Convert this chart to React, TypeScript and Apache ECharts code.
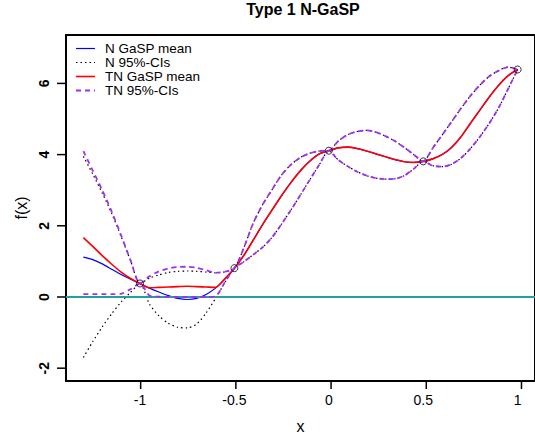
import React, { useEffect, useRef } from "react";
import * as echarts from "echarts";

const xs = [-1.3, -1.25, -1.2, -1.15, -1.1, -1.05, -1, -0.95, -0.9, -0.85, -0.8, -0.75, -0.7, -0.65, -0.6, -0.55, -0.5, -0.45, -0.4, -0.35, -0.3, -0.25, -0.2, -0.15, -0.1, -0.05, 0, 0.05, 0.1, 0.15, 0.2, 0.25, 0.3, 0.35, 0.4, 0.45, 0.5, 0.55, 0.6, 0.65, 0.7, 0.75, 0.8, 0.85, 0.9, 0.95, 1];

const nMean = [1.12, 1.05, 0.93, 0.78, 0.63, 0.5, 0.38, 0.25, 0.14, 0.04, -0.04, -0.07, -0.04, 0.07, 0.25, 0.5, 0.81, 1.17, 1.6, 2.04, 2.45, 2.85, 3.22, 3.55, 3.82, 4.02, 4.11, 4.19, 4.21, 4.17, 4.1, 4.02, 3.94, 3.86, 3.8, 3.78, 3.81, 3.88, 4.0, 4.2, 4.5, 4.88, 5.25, 5.62, 5.95, 6.22, 6.39];
const nUpper = [3.95, 3.45, 2.92, 2.35, 1.7, 1.02, 0.38, 0.53, 0.62, 0.69, 0.72, 0.73, 0.72, 0.7, 0.68, 0.71, 0.81, 1.38, 2.08, 2.6, 3.02, 3.43, 3.72, 3.92, 4.04, 4.1, 4.11, 4.38, 4.56, 4.65, 4.68, 4.63, 4.52, 4.38, 4.2, 4.0, 3.81, 4.18, 4.55, 4.92, 5.3, 5.65, 5.95, 6.2, 6.36, 6.46, 6.39];
const nLower = [-1.7, -1.25, -0.84, -0.47, -0.14, 0.13, 0.38, -0.2, -0.53, -0.74, -0.85, -0.87, -0.76, -0.45, -0.04, 0.41, 0.81, 0.99, 1.19, 1.4, 1.68, 2.05, 2.45, 2.87, 3.3, 3.72, 4.11, 3.85, 3.67, 3.52, 3.41, 3.34, 3.31, 3.32, 3.41, 3.6, 3.81, 3.69, 3.66, 3.73, 3.9, 4.17, 4.5, 4.88, 5.32, 5.85, 6.39];
const tnMean = [1.67, 1.42, 1.16, 0.92, 0.7, 0.52, 0.38, 0.26, 0.27, 0.28, 0.29, 0.3, 0.29, 0.28, 0.27, 0.52, 0.81, 1.17, 1.6, 2.04, 2.45, 2.85, 3.22, 3.55, 3.82, 4.02, 4.11, 4.19, 4.21, 4.17, 4.1, 4.02, 3.94, 3.86, 3.8, 3.78, 3.81, 3.88, 4.0, 4.2, 4.5, 4.88, 5.25, 5.62, 5.95, 6.22, 6.39];
const tnUpper = [4.1, 3.55, 3.0, 2.4, 1.73, 1.03, 0.38, 0.58, 0.72, 0.8, 0.84, 0.85, 0.82, 0.75, 0.68, 0.71, 0.81, 1.38, 2.08, 2.6, 3.02, 3.43, 3.72, 3.92, 4.04, 4.1, 4.11, 4.38, 4.56, 4.65, 4.68, 4.63, 4.52, 4.38, 4.2, 4.0, 3.81, 4.18, 4.55, 4.92, 5.3, 5.65, 5.95, 6.2, 6.36, 6.46, 6.39];
const tnLower = [0.08, 0.08, 0.08, 0.08, 0.09, 0.22, 0.38, 0.04, 0.01, 0.0, 0.0, 0.0, 0.0, 0.0, 0.02, 0.42, 0.81, 0.99, 1.19, 1.4, 1.68, 2.05, 2.45, 2.87, 3.3, 3.72, 4.11, 3.85, 3.67, 3.52, 3.41, 3.34, 3.31, 3.32, 3.41, 3.6, 3.81, 3.69, 3.66, 3.73, 3.9, 4.17, 4.5, 4.88, 5.32, 5.85, 6.39];

const designX = [-1, -0.5, 0, 0.5, 1];
const designY = [0.38, 0.81, 4.11, 3.81, 6.39];

const xTicks = [-1, -0.5, 0, 0.5, 1];
const yTicks = [-2, 0, 2, 4, 6];

const legendNames = ["N GaSP mean", "N 95%-CIs", "TN GaSP mean", "TN 95%-CIs"];

const FONT = "'Liberation Sans', Arial, Helvetica, sans-serif";
const BLUE = "#0000FF";
const RED = "#FF0000";
const PURPLE = "#A030F0";
const BLACK = "#000000";
const TEAL = "#22A0A0";

const X_MIN = -1.392;
const X_MAX = 1.092;
const Y_MIN = -2.36;
const Y_MAX = 7.36;

const GRID = { left: 66, top: 35, width: 473, height: 346 };

const pair = (ys: number[]) => xs.map((x, i) => [x, ys[i]]);

export default function App() {
  const ref = useRef<HTMLDivElement>(null);
  useEffect(() => {
    if (!ref.current) return;
    const chart = echarts.init(ref.current, undefined, { renderer: "svg" });
    const lineSeries = (name: string, ys: number[], color: string, width: number, type: any, z: number) => ({
      name,
      type: "line",
      data: pair(ys),
      showSymbol: false,
      symbol: "none",
      smooth: 0.25,
      lineStyle: { color, width, type },
      z,
      silent: true,
    });
    const legendStyles = [
      { color: BLUE, width: 1.2, dash: null as any },
      { color: BLACK, width: 1.2, dash: [1.5, 3] },
      { color: RED, width: 1.6, dash: null },
      { color: PURPLE, width: 1.8, dash: [5, 4] },
    ];

    // same linear map as the value axes (grid box and axis extents)
    const xPix = (v: number) => GRID.left + ((v - X_MIN) / (X_MAX - X_MIN)) * GRID.width;
    const yPix = (v: number) => GRID.top + ((Y_MAX - v) / (Y_MAX - Y_MIN)) * GRID.height;

    const g: any[] = [];
    legendNames.forEach((n, i) => {
      const y = 48.5 + i * 14;
      g.push({
        type: "line",
        shape: { x1: 76, y1: y, x2: 95, y2: y },
        style: { stroke: legendStyles[i].color, lineWidth: legendStyles[i].width, lineDash: legendStyles[i].dash },
      });
      g.push({
        type: "text",
        x: 105,
        y,
        style: { text: n, fontSize: 13.5, lineHeight: 14, fontFamily: FONT, fill: "#000", verticalAlign: "middle", align: "left" },
      });
    });
    const bottom = GRID.top + GRID.height;
    xTicks.forEach((v) => {
      const px = xPix(v);
      g.push({ type: "rect", shape: { x: px - 0.75, y: bottom, width: 1.5, height: 8 }, style: { fill: "#000" }, z: 50 });
    });
    yTicks.forEach((v) => {
      const py = yPix(v);
      g.push({ type: "rect", shape: { x: GRID.left - 9, y: py - 0.75, width: 9, height: 1.5 }, style: { fill: "#000" }, z: 50 });
    });

    chart.setOption({
      animation: false,
      backgroundColor: "#fff",
      title: {
        text: "Type 1 N-GaSP",
        left: 303,
        top: 1,
        textAlign: "center",
        padding: 0,
        textStyle: { fontSize: 16, fontWeight: "bold", fontFamily: FONT, color: "#000" },
      },
      grid: {
        ...GRID,
        show: true,
        borderColor: "#000",
        borderWidth: 2,
        backgroundColor: "transparent",
        containLabel: false,
      },
      xAxis: {
        type: "value",
        min: X_MIN,
        max: X_MAX,
        position: "bottom",
        name: "x",
        nameLocation: "middle",
        nameGap: 37,
        nameTextStyle: { fontSize: 16, fontFamily: FONT, color: "#000" },
        axisLine: { show: false, onZero: false },
        splitLine: { show: false },
        axisTick: { show: false },
        axisLabel: { customValues: xTicks, margin: 12, fontSize: 14, fontFamily: FONT, color: "#000" },
      },
      yAxis: {
        type: "value",
        min: Y_MIN,
        max: Y_MAX,
        position: "left",
        name: "f(x)",
        nameLocation: "middle",
        nameGap: 34,
        nameRotate: 90,
        nameTextStyle: { fontSize: 16, fontFamily: FONT, color: "#000" },
        axisLine: { show: false, onZero: false },
        splitLine: { show: false },
        axisTick: { show: false },
        axisLabel: { customValues: yTicks, rotate: 90, margin: 15, fontSize: 14, fontWeight: "bold", fontFamily: FONT, color: "#000" },
      },
      graphic: { elements: g },
      series: [
        lineSeries("N GaSP mean", nMean, BLUE, 1.2, "solid", 2),
        lineSeries("N 95%-CIs upper", nUpper, BLACK, 1.2, [1.5, 3], 3),
        lineSeries("N 95%-CIs lower", nLower, BLACK, 1.2, [1.5, 3], 3),
        lineSeries("TN GaSP mean", tnMean, RED, 1.6, "solid", 4),
        lineSeries("TN 95%-CIs upper", tnUpper, PURPLE, 1.8, [5, 4], 5),
        lineSeries("TN 95%-CIs lower", tnLower, PURPLE, 1.8, [5, 4], 5),
        {
          name: "zero",
          type: "line",
          data: [],
          z: 6,
          silent: true,
          markLine: {
            silent: true,
            symbol: "none",
            label: { show: false },
            lineStyle: { color: TEAL, width: 2, type: "solid" },
            data: [{ yAxis: 0 }],
          },
        },
        {
          name: "design",
          type: "scatter",
          data: designX.map((x, i) => [x, designY[i]]),
          symbol: "circle",
          symbolSize: 7,
          itemStyle: { color: "transparent", borderColor: "#000", borderWidth: 1 },
          z: 7,
          silent: true,
        },
      ],
    });

    return () => chart.dispose();
  }, []);
  return <div ref={ref} style={{ position: "fixed", left: 0, top: 0, width: 535, height: 440 }} />;
}
